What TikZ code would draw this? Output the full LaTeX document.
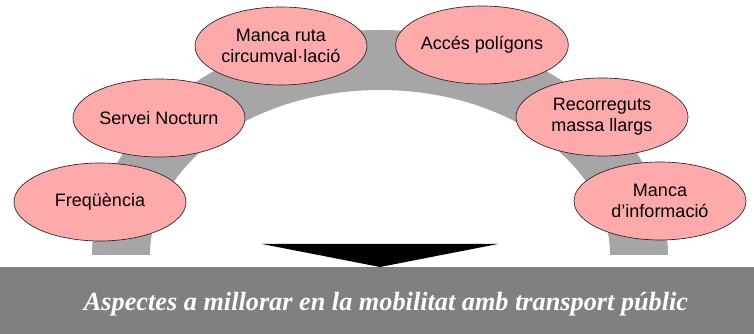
\documentclass[tikz,border=0pt]{standalone}
\usepackage{fontspec}
\setmainfont{Liberation Serif}
\setsansfont{Liberation Sans}
\usetikzlibrary{shapes.geometric}
\definecolor{archgray}{RGB}{166,166,166}
\definecolor{bargray}{RGB}{128,128,128}
\definecolor{bubblepink}{RGB}{255,170,170}
\tikzset{
  bubble/.style={ellipse, draw=black!85, line width=0.5pt, fill=bubblepink,
    minimum width=129pt, minimum height=58.5pt, inner sep=0pt, align=center,
    font=\sffamily\fontsize{13.5}{15.75}\selectfont},
  bartext/.style={text=white, font=\bfseries\itshape\fontsize{19.7}{22}\selectfont, inner sep=0pt}
}

\begin{document}
\begin{tikzpicture}[x=0.75pt,y=0.75pt,yscale=-1,xscale=1]
    \useasboundingbox (0,0) rectangle (754,334);

    %Shape: Arch
    \fill[archgray] (92,255) arc[start angle=180, end angle=360, x radius=288, y radius=225]
        -- (610,255) arc[start angle=0, end angle=-180, x radius=230, y radius=165] -- cycle;
    %Shape: Triangle
    \fill[black] (262,244) -- (498,244) -- (380,267) -- cycle;
    %Shape: Rectangle
    \fill[bargray] (0,267) rectangle (754,334);

    % Text Node
    \node[bartext, anchor=base] (title) at (386,311) {Aspectes a millorar en la mobilitat amb transport públic};

    %Shape: Ellipse
    \node[bubble] (freq) at (100,202) {Freqüència};
    %Shape: Ellipse
    \node[bubble] (nocturn) at (159,118) {Servei Nocturn};
    %Shape: Ellipse
    \node[bubble] (ruta) at (281,46) {Manca ruta\\circumval·lació};
    %Shape: Ellipse
    \node[bubble] (poligons) at (482,45) {Accés polígons};
    %Shape: Ellipse
    \node[bubble] (recorreguts) at (602,117) {Recorreguts\\massa llargs};
    %Shape: Ellipse
    \node[bubble] (informacio) at (660,201) {Manca\\d'informació};

\end{tikzpicture}
\end{document}
